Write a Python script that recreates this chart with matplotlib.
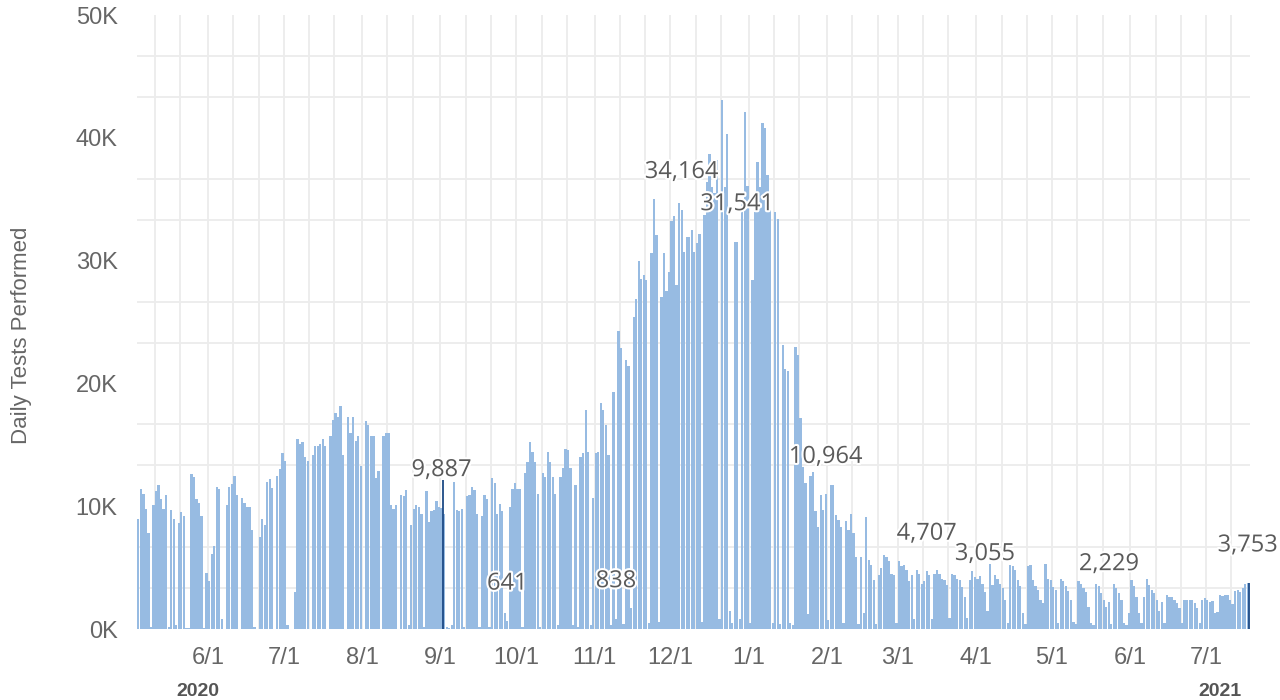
import datetime as dt
import numpy as np
import matplotlib
matplotlib.use("Agg")
import matplotlib.pyplot as plt
import matplotlib.dates as mdates
import matplotlib.ticker as mticker
import matplotlib.patheffects as pe

# Daily tests performed (thousands), one value per day starting 2020-05-04
may20 = [9.0, 11.4, 11.0, 9.8, 7.8, 0.2, 10.1, 11.2, 11.7, 10.6, 9.8, 10.9, 0.2, 9.7,
         9.0, 0.3, 8.6, 9.5, 9.2, 0.1, 0.1, 12.6, 12.4, 10.6, 10.3, 9.2, 0.1, 4.6]
jun20 = [3.9, 6.1, 6.8, 11.6, 11.4, 0.8, 0.0, 10.1, 11.6, 11.8, 12.5, 10.9, 0.0, 10.7, 10.3,
         9.9, 9.9, 8.1, 0.2, 0.0, 7.5, 9.0, 8.5, 12.0, 12.2, 11.5, 0.0, 12.5, 13.0, 14.3]
jul20 = [13.7, 0.3, 0.0, 0.0, 3.0, 15.5, 15.1, 15.2, 14.0, 13.7, 0.0, 14.2, 14.9, 14.9, 15.1, 15.5,
         14.9, 0.0, 15.7, 17.0, 17.6, 17.3, 18.2, 14.2, 0.0, 17.3, 16.0, 17.3, 15.3, 15.7, 13.3]
aug20 = [0.0, 16.9, 16.6, 15.7, 15.7, 12.3, 12.9, 0.0, 15.7, 16.0, 16.0, 10.1, 9.8, 10.1, 0.0, 10.9,
         10.8, 11.3, 0.3, 8.5, 9.8, 10.1, 9.9, 9.4, 0.2, 11.2, 8.7, 9.6, 9.7, 10.4, 9.9]
sep20 = [9.887, 9.4, 0.2, 0.1, 0.3, 12.0, 9.7, 9.6, 9.8, 0.2, 10.8, 10.9, 11.6, 11.3, 9.4,
         0.2, 9.2, 10.9, 10.6, 0.2, 12.3, 11.9, 9.4, 10.2, 9.6, 1.3, 0.641, 9.9, 11.4, 11.9]
oct20 = [11.4, 11.4, 0.2, 12.7, 13.6, 15.2, 14.4, 13.6, 11.0, 0.2, 12.7, 12.4, 14.4, 13.6, 12.4, 11.0,
         0.3, 12.4, 13.1, 14.7, 14.6, 13.1, 0.3, 11.7, 0.2, 14.0, 14.3, 17.8, 14.4, 0.3, 10.7]
nov20 = [14.3, 14.4, 18.4, 17.8, 16.6, 14.2, 0.3, 19.3, 0.838, 24.3, 22.9, 0.4, 21.9, 21.4, 1.7,
         25.4, 26.9, 30.0, 28.5, 28.8, 28.4, 0.5, 30.6, 35.0, 32.1, 0.6, 27.0, 30.6, 27.5, 29.1]
dec20 = [33.2, 33.6, 28.0, 34.7, 34.164, 30.7, 31.9, 31.9, 32.5, 30.7, 31.4, 32.2, 0.6, 33.7, 36.4, 38.7,
         36.0, 35.5, 38.2, 0.8, 43.1, 36.0, 40.3, 1.5, 0.5, 31.5, 31.541, 0.8, 34.8, 42.1, 36.1]
jan21 = [0.5, 28.4, 34.0, 38.0, 36.0, 41.2, 40.8, 37.0, 34.1, 0.5, 34.0, 33.4, 0.4, 23.1, 21.2, 21.0,
         0.5, 0.3, 23.0, 22.3, 17.2, 13.2, 11.9, 1.2, 12.5, 12.8, 9.6, 8.3, 10.9, 9.7, 10.964]
feb21 = [0.7, 11.7, 11.7, 9.3, 8.9, 8.3, 0.5, 8.8, 8.1, 9.4, 7.8, 5.9, 0.4, 5.9,
         1.3, 9.1, 5.6, 5.2, 4.0, 0.4, 4.4, 5.0, 6.0, 5.9, 5.5, 4.5, 4.4, 0.5]
mar21 = [5.5, 5.1, 5.2, 4.8, 3.9, 4.4, 0.8, 4.8, 4.5, 3.7, 3.9, 4.707, 4.4, 0.8, 4.5, 4.8,
         4.5, 4.1, 4.0, 3.6, 0.9, 4.5, 4.4, 4.1, 4.0, 3.4, 2.6, 0.9, 4.0, 4.7, 4.2]
apr21 = [4.1, 4.3, 3.7, 3.055, 1.5, 5.3, 3.6, 4.4, 4.1, 3.7, 3.3, 2.4, 0.5, 5.2, 5.1,
         4.8, 4.0, 3.5, 1.3, 0.4, 5.1, 5.2, 4.0, 3.5, 3.2, 2.4, 2.1, 5.3, 4.1, 4.0]
may21 = [3.4, 3.2, 0.5, 4.1, 3.9, 3.5, 3.1, 2.4, 0.6, 0.4, 3.9, 3.7, 3.3, 3.0, 1.8, 0.5,
         0.3, 3.7, 3.5, 2.9, 2.4, 1.8, 2.229, 0.4, 3.7, 3.3, 2.9, 2.4, 0.5, 0.3, 1.3]
jun21 = [4.0, 3.5, 2.6, 1.3, 0.5, 2.6, 4.1, 3.6, 3.2, 2.9, 2.4, 1.5, 2.2, 0.5, 2.8,
         2.6, 2.6, 2.4, 2.1, 1.7, 0.5, 2.4, 2.4, 2.4, 2.4, 2.1, 1.7, 0.5, 2.4, 2.5]
jul21 = [2.4, 2.2, 2.3, 1.3, 1.4, 2.8, 2.7, 2.8, 2.8, 2.4, 2.0, 3.1, 3.2, 3.0, 3.3, 3.7, 3.753]

first_day = dt.date(2020, 5, 4)

label_days = ["2020-09-01", "2020-09-27", "2020-11-09", "2020-12-05", "2020-12-27",
              "2021-01-31", "2021-03-12", "2021-04-04", "2021-05-23", "2021-07-17"]
highlight_days = ["2020-09-01", "2021-07-17"]
leader_days = ["2020-09-01"]
year_labels = ["2020", "2021"]

BAR = "#97bbe2"
DARK = "#1d4a85"
GRID = "#ececec"
GREY = "#666666"

tests = np.round(np.array(may20 + jun20 + jul20 + aug20 + sep20 + oct20 + nov20 + dec20 +
                          jan21 + feb21 + mar21 + apr21 + may21 + jun21 + jul21) * 1000)
days = [first_day + dt.timedelta(days=i) for i in range(len(tests))]
x = mdates.date2num(days)


def idx(s):
    return (dt.date.fromisoformat(s) - first_day).days


fig = plt.figure(figsize=(12.8, 7), dpi=100)
ax = fig.add_axes([0.107, 0.1014, 0.8695, 0.8771])

ax.bar(x, tests, width=0.9, align="edge", color=BAR, linewidth=0, zorder=2)

ax.set_xlim(x[0] - 0.1, x[0] + 440.3)
ax.set_ylim(0, 50000)

# dark marker lines
px_per_unit = ax.get_window_extent().height / 50000
for d in highlight_days:
    i = idx(d)
    ax.vlines(x[i] + 0.9, 0, tests[i], color=DARK, lw=1.3, zorder=3)
for d in leader_days:
    i = idx(d)
    ax.vlines(x[i] + 0.9, tests[i], tests[i] + 28 / px_per_unit, color=DARK, lw=1.3, zorder=3)

# value labels
for d in label_days:
    i = idx(d)
    ax.annotate(f"{int(tests[i]):,}", xy=(x[i] + 0.45, tests[i]), xytext=(0, 27),
                textcoords="offset points", ha="center", va="center",
                fontsize=17, family="Open Sans", color="#5a5a5a", zorder=5,
                path_effects=[pe.withStroke(linewidth=3, foreground="white")])

# axes styling
ax.xaxis.set_major_locator(mdates.MonthLocator(bymonthday=1))
ax.xaxis.set_major_formatter(mticker.FuncFormatter(
    lambda v, p: f"{mdates.num2date(v).month}/{mdates.num2date(v).day}"))
ax.xaxis.set_minor_locator(mdates.DayLocator(bymonthday=[1, 11, 21]))
ax.yaxis.set_major_locator(mticker.MultipleLocator(10000))
ax.yaxis.set_major_formatter(mticker.FuncFormatter(lambda v, p: f"{int(v / 1000)}K"))
ax.yaxis.set_minor_locator(mticker.MultipleLocator(10000 / 3))

ax.grid(which="both", axis="x", color=GRID, lw=1.3)
ax.grid(which="minor", axis="y", color=GRID, lw=1.3)
ax.set_axisbelow(True)

ax.tick_params(which="both", length=0)
ax.tick_params(axis="y", pad=14, labelsize=17, labelcolor=GREY)
ax.tick_params(axis="x", pad=13, labelsize=17, labelcolor=GREY)
for lab in ax.get_xticklabels() + ax.get_yticklabels():
    lab.set_family("Liberation Sans")

for s in ax.spines.values():
    s.set_visible(False)

fig.text(22 / 1280, 1 - 335 / 700, "Daily Tests Performed", rotation=90,
         ha="center", va="center", fontsize=16, family="Liberation Sans", color=GREY)

for yr, xf in zip(year_labels, [0.055, 0.973]):
    ax.text(xf, -0.101, yr, transform=ax.transAxes, ha="center", va="center",
            fontsize=14, fontweight="bold", family="Liberation Sans", color="#555555")

fig.savefig("out.png", dpi=100)
